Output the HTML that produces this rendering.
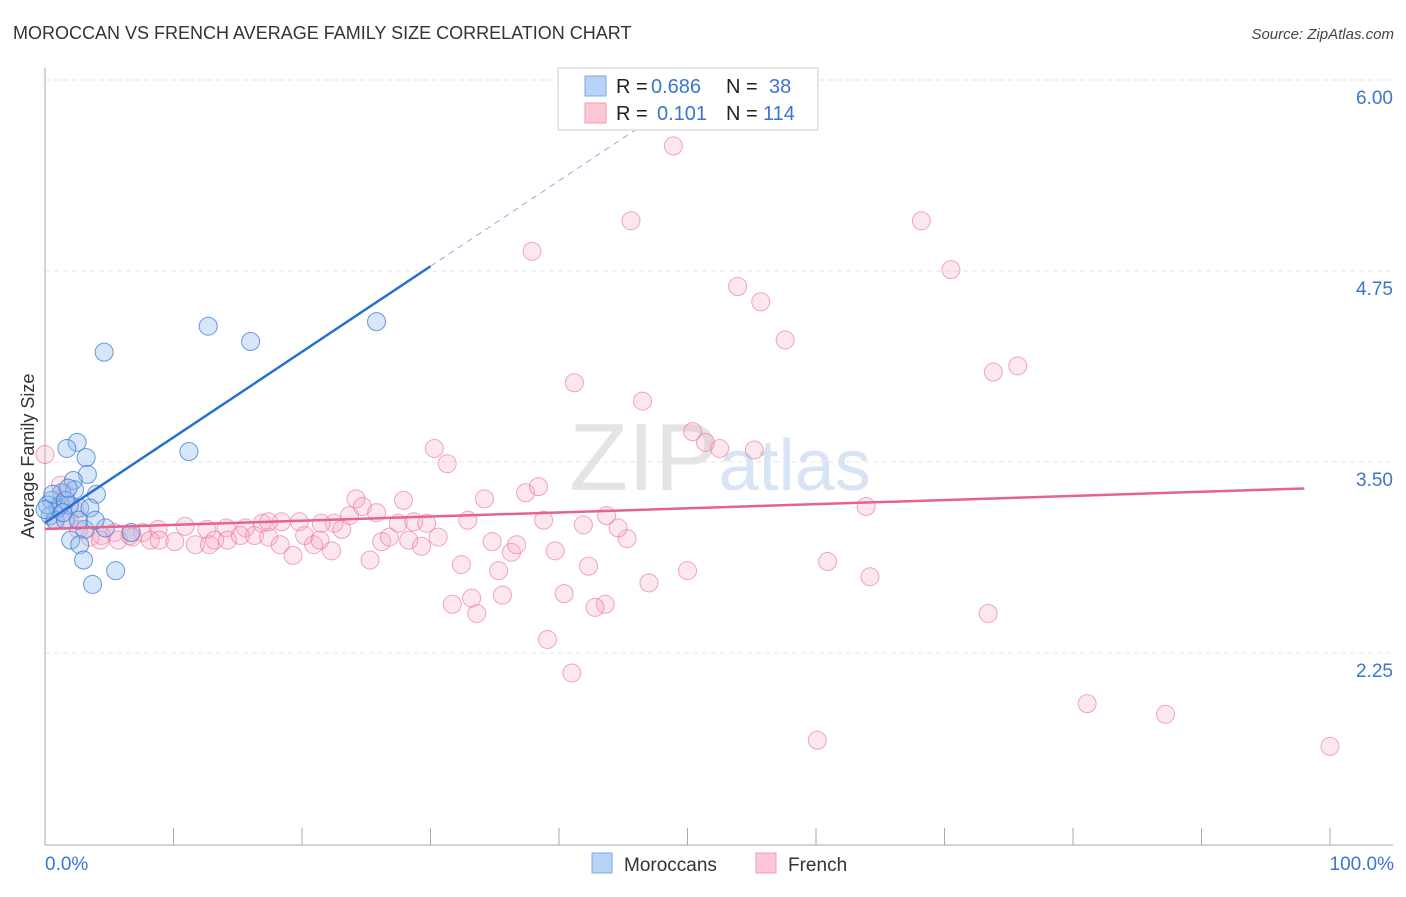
<!DOCTYPE html>
<html><head><meta charset="utf-8"><style>
body{margin:0;background:#fff;font-family:"Liberation Sans",sans-serif;}
svg text{font-family:"Liberation Sans",sans-serif;}
</style></head><body>
<svg id="chart" width="1406" height="892" xmlns="http://www.w3.org/2000/svg">
<text x="13" y="39" font-size="18" fill="#333">MOROCCAN VS FRENCH AVERAGE FAMILY SIZE CORRELATION CHART</text>
<text x="1394" y="39" font-size="15" fill="#444" text-anchor="end" font-style="italic">Source: ZipAtlas.com</text>
<text x="720" y="490" font-size="96" fill="#e4e4e4" text-anchor="middle" font-family="Liberation Serif,serif">ZIP<tspan fill="#d6e4f5" font-family="Liberation Sans,sans-serif" font-size="72">atlas</tspan></text>
<text transform="translate(34,456) rotate(-90)" font-size="18" fill="#333" text-anchor="middle">Average Family Size</text>
<g id="grid"></g><g id="axes"></g><g id="marks"></g>
<g>
<rect x="558" y="68" width="260" height="62" fill="#fff" stroke="#ccc"/>
<rect x="585" y="76" width="21" height="20" fill="#b8d3f5" stroke="#7aaae6"/>
<rect x="585" y="103" width="21" height="20" fill="#fcc8d6" stroke="#f09ab2"/>
<text x="616" y="93" font-size="20" fill="#222">R =</text><text x="651" y="93" font-size="20" fill="#3a76d0">0.686</text>
<text x="726" y="93" font-size="20" fill="#222">N =</text><text x="769" y="93" font-size="20" fill="#3a76d0">38</text>
<text x="616" y="120" font-size="20" fill="#222">R =</text><text x="657" y="120" font-size="20" fill="#3a76d0">0.101</text>
<text x="726" y="120" font-size="20" fill="#222">N =</text><text x="763" y="120" font-size="20" fill="#3a76d0">114</text>
</g>
<g>
<rect x="592" y="853" width="20" height="20" fill="#b8d3f5" stroke="#7aaae6"/>
<text x="624" y="871" font-size="19" fill="#333">Moroccans</text>
<rect x="756" y="853" width="20" height="20" fill="#fcc8d6" stroke="#f09ab2"/>
<text x="788" y="871" font-size="19" fill="#333">French</text>
</g>
</svg>
<script>
const yTicks=[6.00,4.75,3.50,2.25];
const yTickLabels=["6.00","4.75","3.50","2.25"];
const xTickLabels=["0.0%","100.0%"];
const moroccanX=[4.6,12.7,16.0,25.8,11.2,2.5,1.7,3.2,3.3,2.2,4.0,2.3,1.3,0.5,1.0,2.7,3.5,0.4,0.8,1.6,2.0,3.1,4.7,6.7,2.7,3.0,5.5,3.7,1.2,0.2,1.9,0.6,1.6,1.8,2.6,3.9,1.4,0.0];
const moroccanY=[4.33,4.50,4.40,4.53,3.68,3.74,3.70,3.64,3.53,3.49,3.40,3.43,3.41,3.36,3.31,3.31,3.31,3.26,3.23,3.23,3.10,3.17,3.18,3.15,3.07,2.97,2.90,2.81,3.33,3.33,3.33,3.40,3.36,3.44,3.23,3.23,3.28,3.30];
const frenchX=[48.9,45.6,68.2,37.9,70.5,53.9,55.7,57.6,75.7,73.8,41.2,46.5,50.4,51.4,52.5,55.2,30.3,31.3,100,60.1,87.2,81.1,73.4,41.0,39.1,64.2,60.9,63.9,47.0,50.0,43.6,42.8,40.4,35.6,33.6,33.2,31.7,32.4,35.3,36.3,39.7,42.3,36.7,34.8,45.3,44.6,41.9,43.7,38.8,32.9,34.2,37.4,38.4,27.9,24.2,24.7,25.8,23.7,22.5,21.5,19.8,18.4,16.9,15.6,14.1,12.6,10.9,8.8,7.6,6.6,5.4,4.4,3.5,2.6,1.9,1.6,0,1.2,4.3,5.7,6.8,8.2,8.9,10.1,11.7,12.8,13.2,14.2,15.2,16.3,17.4,18.3,19.3,20.2,20.9,21.4,22.3,23.1,25.3,26.2,26.8,27.5,28.3,28.7,29.3,29.7,30.6,17.4,0.8,2.3];
const frenchY=[5.68,5.19,5.19,4.99,4.87,4.76,4.66,4.41,4.24,4.20,4.13,4.01,3.81,3.74,3.70,3.69,3.70,3.60,1.75,1.79,1.96,2.03,2.62,2.23,2.45,2.86,2.96,3.32,2.82,2.90,2.68,2.66,2.75,2.74,2.62,2.72,2.68,2.94,2.90,3.02,3.03,2.93,3.07,3.09,3.11,3.18,3.20,3.26,3.23,3.23,3.37,3.41,3.45,3.36,3.37,3.32,3.28,3.26,3.21,3.21,3.22,3.22,3.21,3.18,3.18,3.17,3.19,3.17,3.15,3.13,3.15,3.13,3.12,3.17,3.23,3.40,3.66,3.46,3.10,3.10,3.12,3.10,3.10,3.09,3.07,3.07,3.10,3.10,3.13,3.13,3.12,3.07,3.00,3.13,3.07,3.10,3.03,3.17,2.97,3.09,3.12,3.21,3.10,3.22,3.06,3.21,3.12,3.22,3.23,3.30];
const NS="http://www.w3.org/2000/svg";
const X0=45,X1=1330,YTOP=97,PXU=152.8;
function xs(p){return X0+(X1-X0)*p/100;}
function ys(v){return YTOP+(6-v)*PXU;}
function mk(tag,attrs,parent){const e=document.createElementNS(NS,tag);for(const k in attrs)e.setAttribute(k,attrs[k]);parent.appendChild(e);return e;}
const grid=document.getElementById('grid'),axes=document.getElementById('axes'),marks=document.getElementById('marks');
yTicks.forEach((t,i)=>{
  const l=mk('line',{x1:45,x2:1393,y1:ys(t)-17,y2:ys(t)-17,stroke:'#e6e6e6','stroke-dasharray':'5,4'},grid);
  
  
  const tx=mk('text',{x:1393,y:ys(t)+7,'font-size':19,fill:'#3a76d0','text-anchor':'end'},axes);
  tx.textContent=yTickLabels[i];
  
  
});
const ya=mk('line',{x1:45,x2:45,y1:68,y2:845,stroke:'#aaa'},axes);


const xa=mk('line',{x1:45,x2:1393,y1:845,y2:845,stroke:'#aaa'},axes);


for(let i=1;i<=10;i++){
  const tk=mk('line',{x1:xs(i*10),x2:xs(i*10),y1:828,y2:845,stroke:'#aaa'},axes);
  
  
}
const xl0=mk('text',{x:45,y:870,'font-size':19,fill:'#3a76d0'},axes);xl0.textContent=xTickLabels[0];


const xl1=mk('text',{x:1394,y:870,'font-size':19,fill:'#3a76d0','text-anchor':'end'},axes);xl1.textContent=xTickLabels[1];


function fit(X,Y){const n=X.length;let mx=0,my=0;for(let i=0;i<n;i++){mx+=X[i];my+=Y[i];}mx/=n;my/=n;let sxy=0,sxx=0;for(let i=0;i<n;i++){sxy+=(X[i]-mx)*(Y[i]-my);sxx+=(X[i]-mx)**2;}const b=sxy/sxx;return [my-b*mx,b];}
function dots(X,Y,fill,stroke,name){X.forEach((x,i)=>{const c=mk('circle',{cx:xs(x),cy:ys(Y[i]),r:9,fill:fill,stroke:stroke,'stroke-width':1},marks);
  
  });}
dots(frenchX,frenchY,'rgba(248,170,195,0.28)','rgba(235,120,155,0.65)','french-point');
dots(moroccanX,moroccanY,'rgba(150,190,240,0.38)','rgba(60,120,210,0.75)','moroccan-point');
const [ma,mb]=fit(moroccanX,moroccanY);
const l1=mk('line',{x1:xs(0),y1:ys(ma),x2:xs(30),y2:ys(ma+mb*30),stroke:'#2a6fd4','stroke-width':2.5},marks);


const xe=(5.88-ma)/mb;
const l2=mk('line',{x1:xs(30),y1:ys(ma+mb*30),x2:xs(xe),y2:ys(ma+mb*xe),stroke:'#8ab0e6','stroke-width':1,'stroke-dasharray':'6,5'},marks);


const [fa,fb]=fit(frenchX,frenchY);
const l3=mk('line',{x1:xs(0),y1:ys(fa),x2:xs(98),y2:ys(fa+fb*98),stroke:'#e8628e','stroke-width':2.5},marks);


</script>
</body></html>
